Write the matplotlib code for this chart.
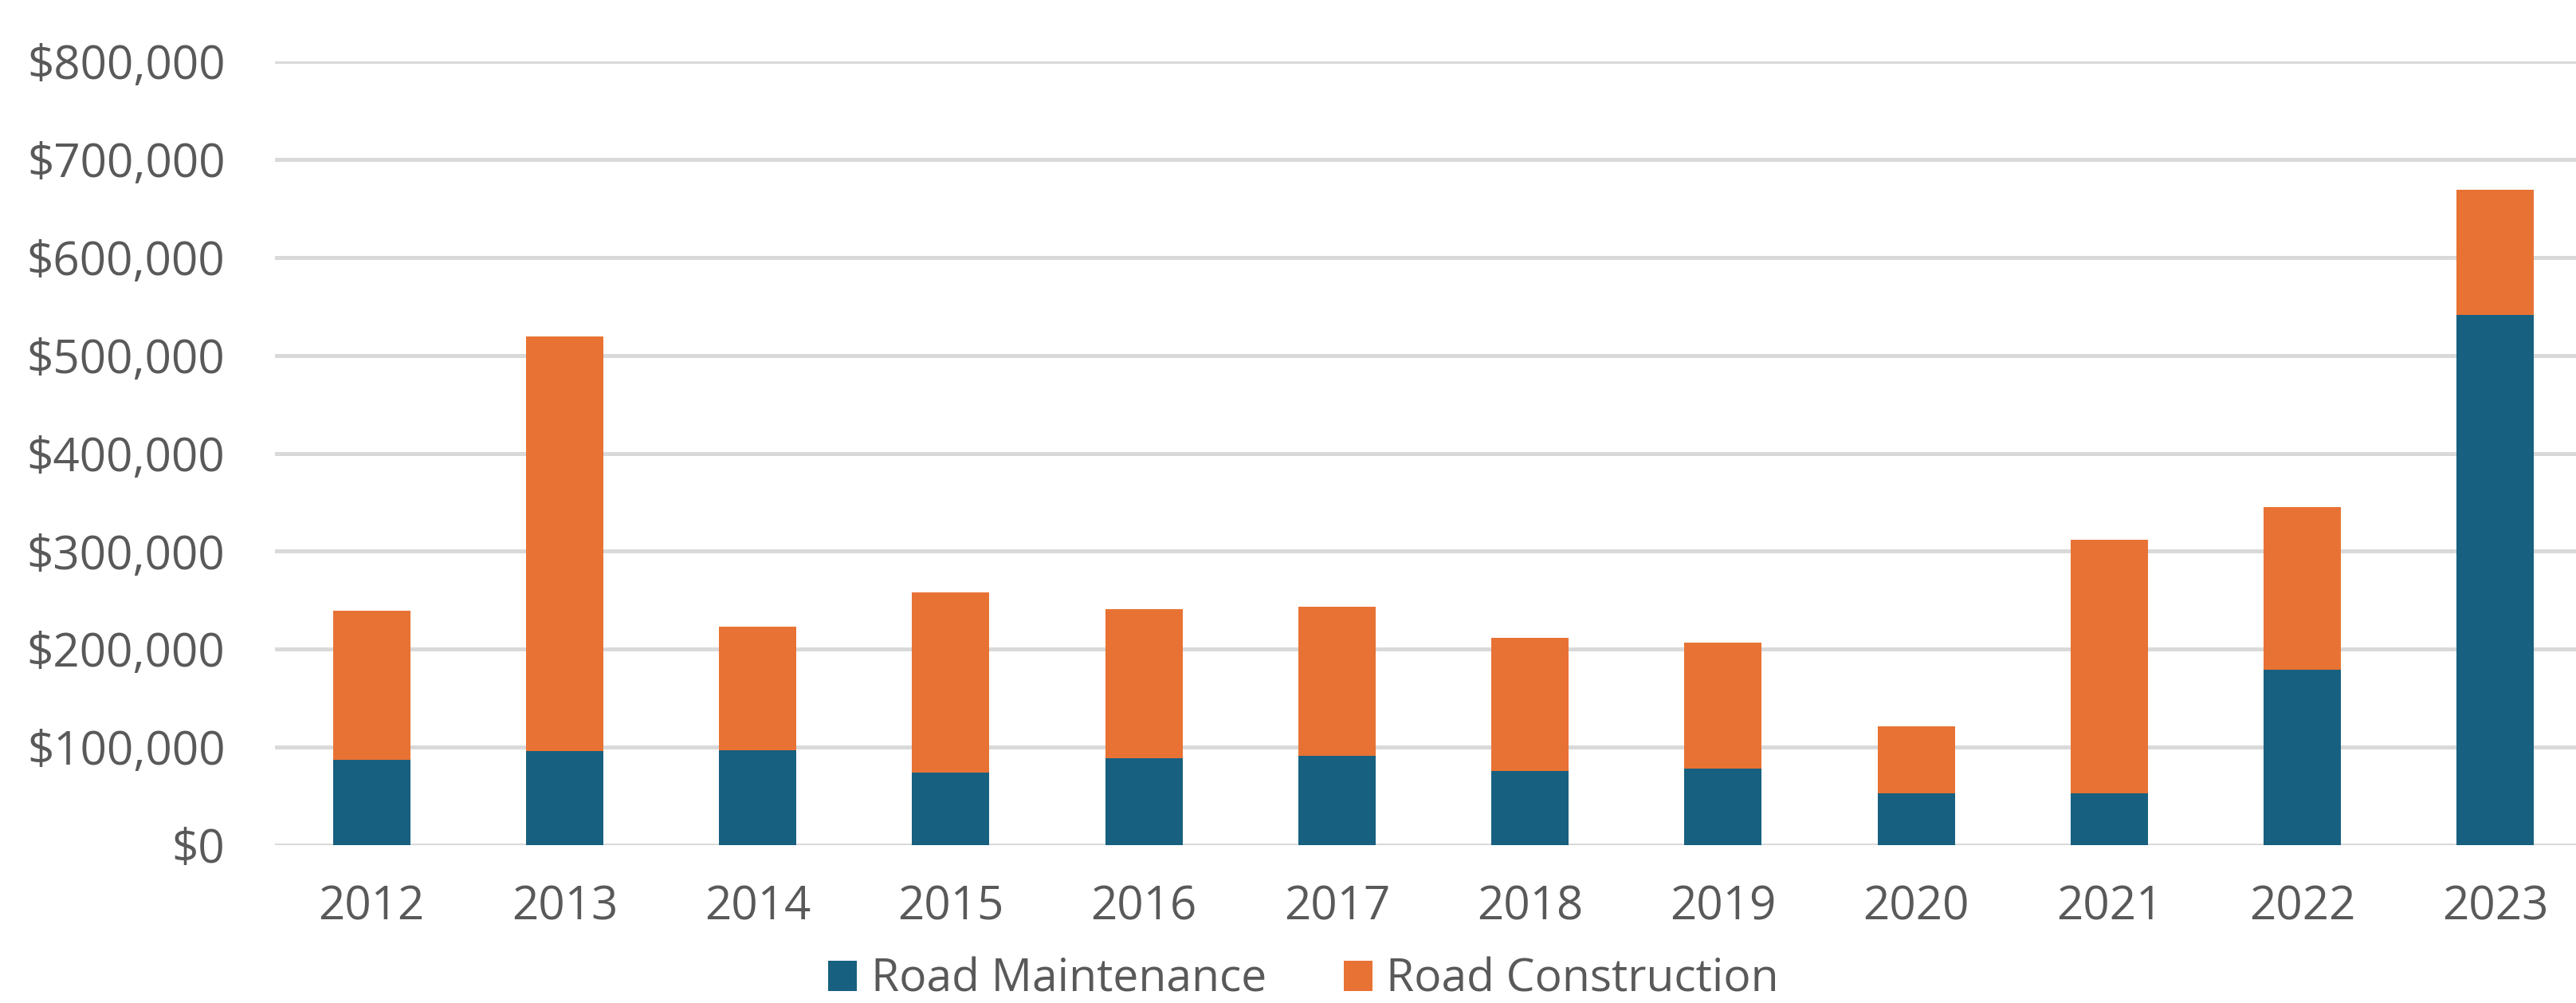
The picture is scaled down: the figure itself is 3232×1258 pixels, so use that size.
import matplotlib
matplotlib.use("Agg")
import matplotlib.pyplot as plt
import numpy as np

years = ["2012", "2013", "2014", "2015", "2016", "2017", "2018", "2019", "2020", "2021", "2022", "2023"]
road_maintenance = [87000, 96000, 97000, 74000, 89000, 91000, 76000, 78000, 53000, 53000, 179000, 541000]
road_construction = [152000, 423000, 126000, 184000, 152000, 152000, 136000, 129000, 68000, 259000, 166000, 128000]
y_ticks = [0, 100000, 200000, 300000, 400000, 500000, 600000, 700000, 800000]
y_tick_labels = ["$0", "$100,000", "$200,000", "$300,000", "$400,000", "$500,000", "$600,000", "$700,000", "$800,000"]
series_names = ["Road Maintenance", "Road Construction"]

BLUE = "#176080"
ORANGE = "#E87234"
GRID = "#D9D9D9"
TEXT = "#595959"
FS = 42
LFS = 41

plt.rcParams['font.family'] = ['Open Sans', 'DejaVu Sans']

fig = plt.figure(figsize=(32.32, 12.58), dpi=100)
W, H = 3232, 1258
left, right = 345, 3252
top, bottom = 77, 1060
ax = fig.add_axes([left / W, (H - bottom) / H, (right - left) / W, (bottom - top) / H])

x = np.arange(len(years))
ax.bar(x, road_maintenance, width=0.4, color=BLUE, label=series_names[0], zorder=3)
ax.bar(x, road_construction, width=0.4, bottom=road_maintenance, color=ORANGE,
       label=series_names[1], zorder=3)

ax.set_xlim(-0.5, len(years) - 0.5)
ax.set_ylim(0, 800000)
ax.set_yticks(y_ticks)
ax.set_yticklabels(y_tick_labels)
ax.set_xticks(x)
ax.set_xticklabels(years)

for s in ax.spines.values():
    s.set_visible(False)
ax.yaxis.grid(True, color=GRID, linewidth=3.6, zorder=0)
ax.set_axisbelow(True)
ax.tick_params(axis='both', length=0, labelsize=FS, colors=TEXT)
ax.tick_params(axis='y', pad=45)
ax.tick_params(axis='x', pad=35)
ax.patch.set_alpha(0)

fig.legend(loc='lower center', bbox_to_anchor=(0.506, 0.0), ncol=2, frameon=False,
           fontsize=LFS, labelcolor=TEXT, handlelength=0.64, handleheight=0.64,
           handletextpad=0.3, columnspacing=1.7, borderpad=0, borderaxespad=0)

fig.savefig("out.png", dpi=100, facecolor="white")
